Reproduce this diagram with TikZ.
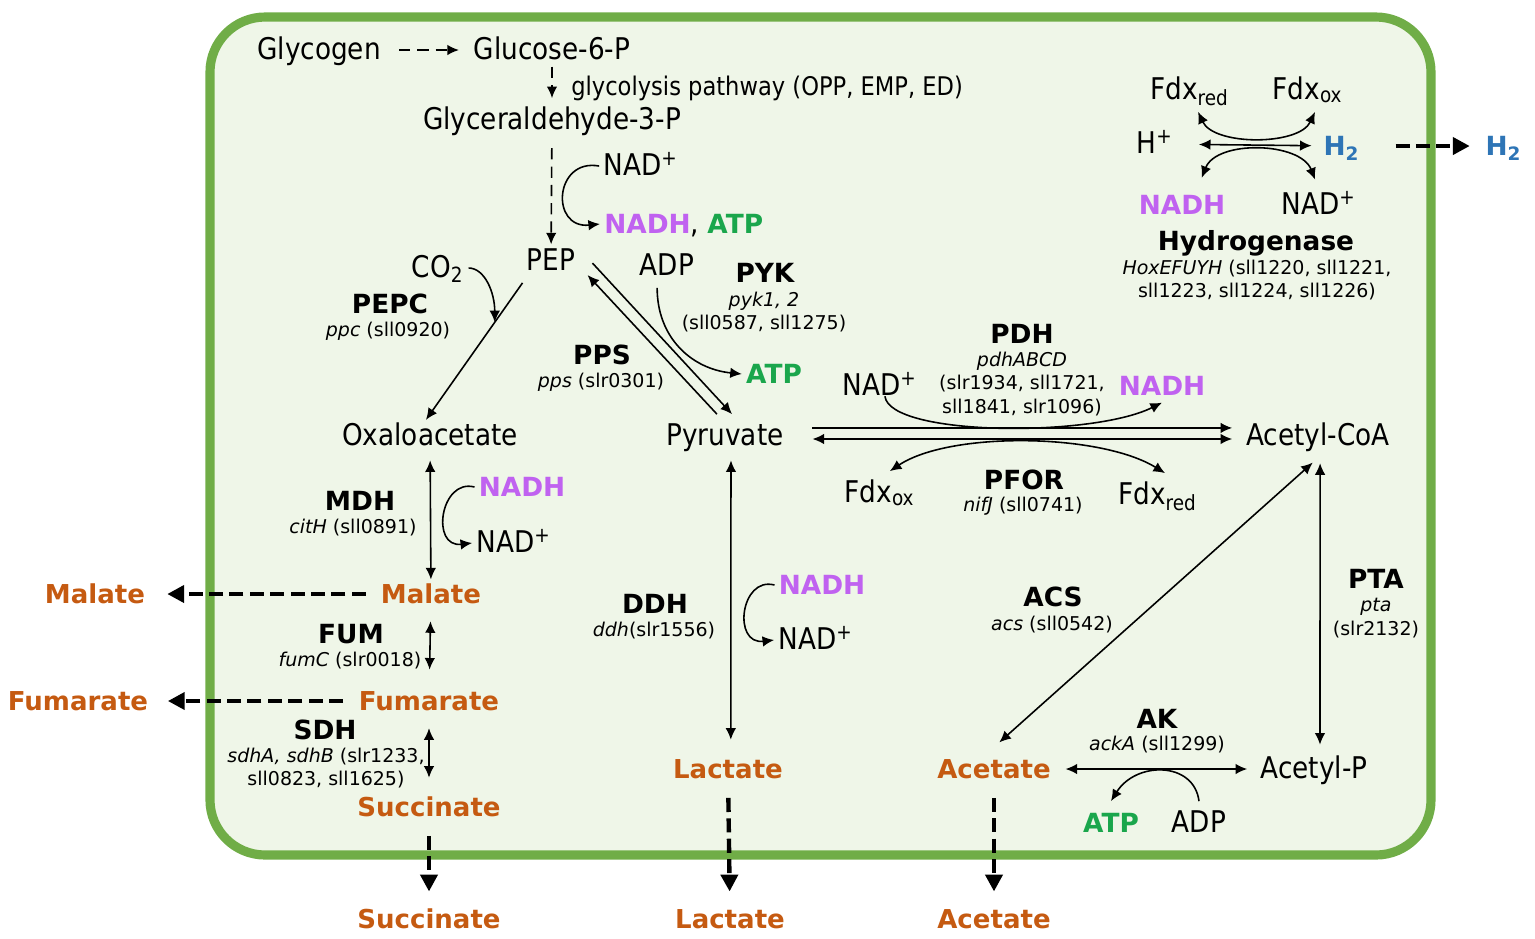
\documentclass[tikz,border=0pt]{standalone}
\usepackage{fontspec}
\setmainfont{DejaVu Sans}
\newfontfamily\condfont{DejaVu Sans}[FakeStretch=0.88]
\usetikzlibrary{arrows.meta,calc}

\definecolor{boxc}{RGB}{112,173,71}
\definecolor{boxf}{RGB}{239,246,232}
\definecolor{prodc}{RGB}{197,90,17}
\definecolor{nadhc}{RGB}{192,98,240}
\definecolor{atpc}{RGB}{26,166,76}
\definecolor{h2c}{RGB}{46,117,182}

\newcommand{\NADHtxt}{{\normalfont\bfseries\fontsize{7.5}{9}\selectfont\textcolor{nadhc}{NADH}}}
\newcommand{\ATPtxt}{{\normalfont\bfseries\fontsize{7.5}{9}\selectfont\textcolor{atpc}{ATP}}}

\tikzset{
    cell/.style={draw=boxc, fill=boxf, line width=2.6pt, rounded corners=0.55cm},
    met/.style={font=\condfont\fontsize{8.5}{10}\selectfont, inner sep=1pt, text height=0.76em, text depth=0.24em},
    enz/.style={font=\bfseries\fontsize{7.5}{9}\selectfont, inner sep=1pt, text height=0.76em, text depth=0.24em},
    gene/.style={font=\fontsize{5.4}{6.6}\selectfont, align=center, inner sep=1pt},
    prod/.style={font=\bfseries\fontsize{7.4}{9}\selectfont, text=prodc, inner sep=1pt, text height=0.76em, text depth=0.24em},
    nadh/.style={prod, font=\bfseries\fontsize{7.5}{9}\selectfont, text=nadhc},
    atp/.style={nadh, text=atpc},
    glyco/.style={->, dash pattern=on 3.2pt off 2pt},
    export/.style={-{Triangle[length=4.8pt,width=4.8pt]}, line width=1.25pt, dash pattern=on 4pt off 1.8pt},
}

\begin{document}
\begin{tikzpicture}[x=0.01cm, y=-0.01cm, line width=0.45pt, >={Latex[length=3.3pt,width=3pt]}]

    \useasboundingbox (0,0) rectangle (1535,938);
    \draw[cell] (210,17) rectangle (1431,855);

    % glycolysis
    \node[met] (glyc) at (319,50) {Glycogen};
    \node[met] (g6p) at (552,50) {Glucose-6-P};
    \node[met, font=\condfont\fontsize{7.3}{9}\selectfont, anchor=west] (glypath) at (567,86) {glycolysis pathway (OPP, EMP, ED)};
    \node[met] (gap) at (552,120) {Glyceraldehyde-3-P};
    \node[met] (nadA) at (641,166) {NAD\textsuperscript{+}};
    \node[met, anchor=west] (nadhatp) at (600,224) {\NADHtxt, \ATPtxt};
    \node[met] (pep) at (551,261) {PEP};
    \node[met] (co2) at (438,268) {CO\textsubscript{2}};
    \node[met] (adpA) at (667,266) {ADP};
    \node[atp] (atpA) at (774,374) {ATP};
    \node[met] (oxa) at (430,436) {Oxaloacetate};
    \node[met] (pyr) at (725,436) {Pyruvate};
    \node[met] (acoa) at (1318,436) {Acetyl-CoA};

    \node[enz] (pepc) at (390,304) {PEPC};
    \node[gene] (pepcg) at (388,331) {\textit{ppc} (sll0920)};
    \node[enz] (pyk) at (765,273) {PYK};
    \node[gene] (pykg) at (764,312) {\textit{pyk1, 2}\\(sll0587, sll1275)};
    \node[enz] (pps) at (602,355) {PPS};
    \node[gene] (ppsg) at (601,382) {\textit{pps} (slr0301)};

    % pyruvate to acetyl-CoA
    \node[enz] (pdh) at (1022,334) {PDH};
    \node[gene] (pdhg) at (1022,384) {\textit{pdhABCD}\\(slr1934, sll1721,\\sll1841, slr1096)};
    \node[met] (nadB) at (880,386) {NAD\textsuperscript{+}};
    \node[nadh] (nadhB) at (1162,386) {NADH};
    \node[met] (fdxoxB) at (880,493) {Fdx\textsubscript{ox}};
    \node[enz] (pfor) at (1024,480) {PFOR};
    \node[gene] (pforg) at (1023,506) {\textit{nifJ} (sll0741)};
    \node[met] (fdxredB) at (1158,495) {Fdx\textsubscript{red}};

    % TCA branch
    \node[enz] (mdh) at (360,501) {MDH};
    \node[gene] (mdhg) at (353,528) {\textit{citH} (sll0891)};
    \node[nadh] (nadhC) at (522,487) {NADH};
    \node[met] (nadC) at (514,543) {NAD\textsuperscript{+}};
    \node[prod] (mal) at (431,594) {Malate};
    \node[prod] (malo) at (95,594) {Malate};
    \node[enz] (fum) at (351,634) {FUM};
    \node[gene] (fumg) at (350,661) {\textit{fumC} (slr0018)};
    \node[prod] (fumr) at (429,701) {Fumarate};
    \node[prod] (fumro) at (78,701) {Fumarate};
    \node[enz] (sdh) at (325,730) {SDH};
    \node[gene] (sdhg) at (326,768) {\textit{sdhA, sdhB} (slr1233,\\sll0823, sll1625)};
    \node[prod] (succ) at (429,807) {Succinate};
    \node[prod] (succo) at (429,919) {Succinate};

    % lactate
    \node[enz] (ddh) at (655,604) {DDH};
    \node[gene] (ddhg) at (654,631) {\textit{ddh}(slr1556)};
    \node[nadh] (nadhD) at (822,585) {NADH};
    \node[met] (nadD) at (816,640) {NAD\textsuperscript{+}};
    \node[prod] (lac) at (728,769) {Lactate};
    \node[prod] (laco) at (730,919) {Lactate};

    % acetate
    \node[enz] (acs) at (1053,597) {ACS};
    \node[gene] (acsg) at (1052,625) {\textit{acs} (sll0542)};
    \node[enz] (pta) at (1376,579) {PTA};
    \node[gene] (ptag) at (1376,618) {\textit{pta}\\(slr2132)};
    \node[prod] (acet) at (994,769) {Acetate};
    \node[prod] (aceto) at (994,919) {Acetate};
    \node[met] (acp) at (1314,769) {Acetyl-P};
    \node[enz] (ak) at (1157,719) {AK};
    \node[gene] (akg) at (1157,745) {\textit{ackA} (sll1299)};
    \node[atp] (atpE) at (1111,823) {ATP};
    \node[met] (adpE) at (1199,823) {ADP};

    % hydrogenase
    \node[met] (fdxredH) at (1190,90) {Fdx\textsubscript{red}};
    \node[met] (fdxoxH) at (1308,90) {Fdx\textsubscript{ox}};
    \node[met] (hplus) at (1155,144) {H\textsuperscript{+}};
    \node[nadh, text=h2c] (h2) at (1342,146) {H\textsubscript{2}};
    \node[nadh, text=h2c] (h2o) at (1504,146) {H\textsubscript{2}};
    \node[nadh] (nadhH) at (1182,205) {NADH};
    \node[met] (nadH) at (1319,205) {NAD\textsuperscript{+}};
    \node[enz] (hyd) at (1256,241) {Hydrogenase};
    \node[gene] (hydg) at (1257,280) {\textit{HoxEFUYH} (sll1220, sll1221,\\sll1223, sll1224, sll1226)};

    % connectors
    \draw[glyco, shorten <=4pt, shorten >=3pt] (glyc) -- (g6p);
    \draw[glyco, shorten <=-1.5pt] (g6p) -- (gap);
    \draw[glyco, shorten <=1.8pt, shorten >=-1.5pt] (gap) -- (pep);
    \draw[->] (nadA.west) .. controls +(-45,-8) and +(-50,5) .. (nadhatp.west);

    \coordinate (co2in) at ($(pep.south west)!0.3!(oxa.north)$);
    \draw[->, shorten >=-2pt] (pep.south west) -- (oxa.north);
    \draw[->] (co2.east) .. controls +(16,0) and +(0,-30) .. (co2in);
    \draw[->] ([xshift=3.7pt,yshift=-0.6pt]pep.east) -- ([xshift=2pt]pyr.north);
    \draw[->] ([xshift=-2.3pt]pyr.north) -- ([xshift=2.3pt,yshift=-4pt]pep.east);
    \draw[->] ([xshift=-2.8pt]adpA.south) .. controls +(0,50) and +(-50,-5) .. (atpA.west);

    \draw[->, shorten <=7pt, shorten >=2.8pt] ([yshift=2.3pt]pyr.east) -- ([yshift=2.3pt]acoa.west);
    \draw[<->, shorten <=7pt, shorten >=2.8pt] ([yshift=-0.85pt]pyr.east) -- ([yshift=-0.85pt]acoa.west);
    \draw[->] ([xshift=1.4pt,yshift=3.3pt]nadB.south) .. controls +(5,40) and +(-70,35) .. ([yshift=1.5pt]nadhB.south);
    \draw[<->] ([xshift=2.8pt]fdxoxB.north) .. controls +(60,-40) and +(-65,-40) .. ([xshift=2pt]fdxredB.north);

    \draw[<->, shorten <=0.7pt, shorten >=-2.1pt] (oxa) -- (mal);
    \draw[<->, shorten <=1.5pt, shorten >=2.7pt] (mal) -- (fumr);
    \draw[<->, shorten <=1.5pt, shorten >=2.1pt] (fumr) -- (succ);
    \foreach \a/\b in {nadhC/nadC, nadhD/nadD}
        \draw[->] (\a.west) .. controls +(-34,-9) and +(-42,5) .. (\b.west);

    \draw[<->, shorten <=0.7pt, shorten >=2.1pt] ([xshift=1.7pt]pyr.south) -- ([xshift=0.8pt]lac.north);
    \draw[<->, shorten <=2pt, shorten >=2pt] (acoa.south) -- (acet.north);
    \draw[<->, shorten <=1.5pt, shorten >=0.7pt] ([xshift=0.6pt]acoa.south) -- ([xshift=1.7pt]acp.north);
    \draw[<->, shorten <=3pt, shorten >=2.6pt] (acet.east) -- (acp.west);
    \draw[->] (adpE.north) .. controls +(-5,-40) and +(25,-40) .. (atpE.north);

    \draw[<->, shorten <=6pt, shorten >=2.2pt] (hplus) -- (h2);
    \draw[<->] ([xshift=2.3pt]fdxredH.south) .. controls +(16,34) and +(-16,34) .. ([xshift=2pt]fdxoxH.south);
    \draw[<->] ([xshift=5.6pt,yshift=1.5pt]nadhH.north) .. controls +(15,-38) and +(-15,-38) .. ([xshift=-1.1pt,yshift=1pt]nadH.north);

    % export
    \draw[export, shorten <=3.1pt, shorten >=5.1pt] (mal) -- (malo);
    \draw[export, shorten <=3.3pt, shorten >=4.4pt] (fumr) -- (fumro);
    \foreach \a/\b in {succ/succo, lac/laco, acet/aceto}
        \draw[export, shorten <=2pt, shorten >=1.6pt] (\a) -- (\b);
    \draw[export, shorten <=8.8pt, shorten >=3.3pt] (h2) -- (h2o);

\end{tikzpicture}
\end{document}
